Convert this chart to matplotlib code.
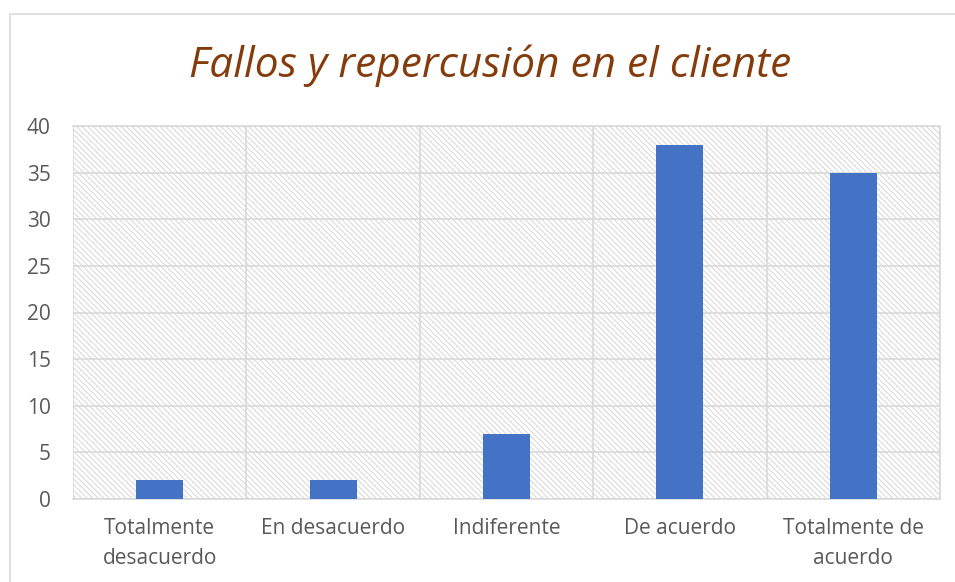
import matplotlib.pyplot as plt
from matplotlib.patches import Rectangle

categories = ["Totalmente\ndesacuerdo", "En desacuerdo", "Indiferente", "De acuerdo", "Totalmente de\nacuerdo"]
values = [2, 2, 7, 38, 35]
yticks = [0, 5, 10, 15, 20, 25, 30, 35, 40]

grid_col = "#D9D9D9"
text_col = "#595959"

plt.rcParams['font.family'] = ['Open Sans', 'DejaVu Sans']
plt.rcParams['hatch.color'] = "#DADADA"
plt.rcParams['hatch.linewidth'] = 0.8

fig = plt.figure(figsize=(9.55, 5.82), dpi=100)
# outer chart border (clipped at right/bottom like the screenshot)
fig.patches.append(Rectangle((10/955, -0.1), 1.2, (582-14)/582 + 0.1, transform=fig.transFigure,
                             fill=False, edgecolor=grid_col, linewidth=1.2))

ax = fig.add_axes([73/955, 83/582, 867/955, 373/582])
x = list(range(len(categories)))

# hatched plot area
ax.add_patch(Rectangle((0, 0), 1, 1, transform=ax.transAxes, facecolor="white",
                       hatch="\\\\\\\\\\\\", edgecolor="#DADADA", linewidth=0, zorder=0))

ax.bar(x, values, width=0.27, color="#4472C4", zorder=3)

ax.set_xlim(-0.5, len(categories) - 0.5)
ax.set_ylim(0, 40)
ax.set_yticks(yticks)
ax.set_xticks(x)
ax.set_xticklabels(categories, fontsize=15, color=text_col, linespacing=1.55)
ax.tick_params(axis='y', labelsize=15, labelcolor=text_col, length=0, pad=16)
ax.tick_params(axis='x', length=0, pad=14)

for v in yticks:
    ax.axhline(v, color=grid_col, linewidth=1.2, zorder=1)
for b in [i + 0.5 for i in range(-1, len(categories))]:
    ax.axvline(b, color=grid_col, linewidth=1.2, zorder=1)
for s in ax.spines.values():
    s.set_color(grid_col)
    s.set_linewidth(1.2)
ax.spines['left'].set_visible(False)

fig.text(490/955, 1 - 66/582, "Fallos y repercusión en el cliente", ha="center", va="center",
         fontsize=30.5, style="italic", color="#843C0C")

fig.savefig("out.png", dpi=100)
